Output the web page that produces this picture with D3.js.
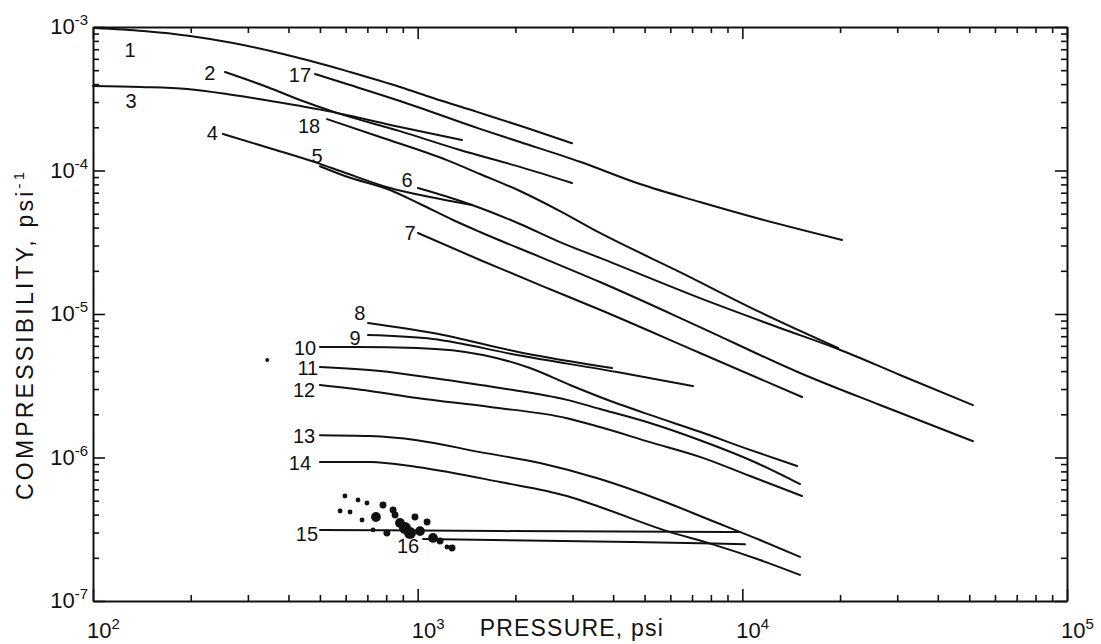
<!DOCTYPE html>
<html>
<head>
<meta charset="utf-8">
<title>Compressibility vs pressure</title>
<script src="https://cdn.jsdelivr.net/npm/d3@7"></script>
<style>
  html, body { margin: 0; padding: 0; background: #fff; }
  svg { display: block; }
  .curve { fill: none; stroke: #111; stroke-width: 2; stroke-linejoin: round; stroke-linecap: round; }
  .axis path { stroke: #111; stroke-width: 2; }
  .axis line { stroke: #111; stroke-width: 1.6; }
  text { font-family: 'Liberation Sans', Arial, sans-serif; fill: #111; }
</style>
</head>
<body>
<svg id="chart"></svg>
<script>
// pressure (psi), compressibility (1/psi)
var curve1 = [[101, 9.84e-4], [143, 9.38e-4], [199, 8.66e-4], [270, 7.73e-4], [385, 6.48e-4], [548, 5.26e-4], [619, 4.86e-4], [882, 3.82e-4], [1115, 3.20e-4], [1523, 2.56e-4], [2171, 1.98e-4], [2988, 1.55e-4]];
var curve2 = [[255, 4.86e-4], [344, 3.82e-4], [434, 3.10e-4], [564, 2.52e-4], [882, 1.88e-4], [1350, 1.39e-4], [2066, 1.06e-4], [2988, 8.18e-5]];
var curve3 = [[100, 3.88e-4], [140, 3.82e-4], [195, 3.70e-4], [270, 3.36e-4], [385, 2.95e-4], [564, 2.52e-4], [882, 2.01e-4], [1369, 1.63e-4]];
var curve4 = [[251, 1.80e-4], [351, 1.43e-4], [490, 1.13e-4], [589, 9.76e-5], [822, 7.55e-5], [1091, 6.53e-5], [1470, 5.75e-5]];
var curve5 = [[500, 1.07e-4], [597, 9.15e-5], [822, 7.31e-5], [1017, 5.84e-5], [1285, 4.52e-5], [1556, 3.73e-5], [2381, 2.50e-5], [3644, 1.67e-5], [7405, 8.11e-6], [15050, 3.88e-6], [26550, 2.32e-6], [51330, 1.30e-6]];
var curve6 = [[1002, 7.55e-5], [1214, 6.64e-5], [1470, 5.75e-5], [2066, 4.24e-5], [2744, 3.17e-5], [3644, 2.46e-5], [7405, 1.29e-5], [13060, 7.99e-6], [19710, 5.70e-6], [30590, 3.76e-6], [51330, 2.32e-6]];
var curve7 = [[1002, 3.67e-5], [1556, 2.38e-5], [2381, 1.59e-5], [3644, 1.07e-5], [7405, 5.35e-6], [15270, 2.64e-6]];
var curve8 = [[703, 8.66e-6], [1115, 7.37e-6], [2110, 5.35e-6], [3967, 4.20e-6]];
var curve9 = [[703, 7.14e-6], [1115, 6.70e-6], [2023, 5.18e-6], [4111, 3.94e-6], [7047, 3.15e-6]];
var curve10 = [[500, 5.89e-6], [650, 5.89e-6], [995, 5.80e-6], [1589, 5.18e-6], [2218, 4.20e-6], [2945, 3.20e-6], [3644, 2.64e-6], [5195, 1.98e-6], [7405, 1.51e-6], [10560, 1.13e-6], [14740, 8.73e-7]];
var curve11 = [[500, 4.27e-6], [766, 4.01e-6], [1115, 3.58e-6], [1793, 3.05e-6], [2884, 2.52e-6], [3644, 2.18e-6], [5195, 1.74e-6], [7405, 1.32e-6], [10560, 9.61e-7], [15050, 6.53e-7]];
var curve12 = [[500, 3.20e-6], [713, 2.91e-6], [995, 2.60e-6], [1670, 2.25e-6], [2884, 1.88e-6], [3644, 1.63e-6], [5195, 1.28e-6], [7405, 1.01e-6], [10560, 7.43e-7], [15270, 5.39e-7]];
var curve13 = [[500, 1.43e-6], [713, 1.41e-6], [995, 1.32e-6], [1556, 1.09e-6], [2381, 9.15e-7], [3644, 7.08e-7], [5578, 5.06e-7], [7951, 3.67e-7], [11340, 2.66e-7], [15050, 2.03e-7]];
var curve14 = [[500, 9.30e-7], [713, 9.30e-7], [995, 8.59e-7], [1793, 6.75e-7], [2884, 5.39e-7], [3644, 4.52e-7], [5861, 3.07e-7], [8066, 2.49e-7], [11340, 1.93e-7], [15050, 1.52e-7]];
var curve15 = [[500, 3.13e-7], [1793, 3.07e-7], [9835, 3.03e-7]];
var curve16 = [[1039, 2.70e-7], [4605, 2.58e-7], [10190, 2.49e-7]];
var curve17 = [[483, 4.70e-4], [619, 3.94e-4], [882, 3.05e-4], [1556, 1.95e-4], [2066, 1.58e-4], [3162, 1.15e-4], [4839, 8.05e-5], [7405, 6.03e-5], [11340, 4.59e-5], [20280, 3.28e-5]];
var curve18 = [[526, 2.28e-4], [766, 1.71e-4], [1231, 1.18e-4], [1556, 9.45e-5], [2066, 7.20e-5], [2744, 5.22e-5], [3644, 3.67e-5], [6427, 1.96e-5], [11340, 1.03e-5], [19710, 5.80e-6]];

// curve numbers: text, pressure, compressibility
var curveLabels = [
  ['1', 130, 6.18e-4], ['2', 229, 4.27e-4], ['3', 131, 2.73e-4], ['4', 233, 1.63e-4],
  ['5', 490, 1.13e-4], ['6', 927, 7.67e-5], ['7', 947, 3.28e-5], ['8', 664, 9.08e-6],
  ['9', 641, 6.08e-6], ['10', 450, 5.18e-6], ['11', 459, 3.76e-6], ['12', 447, 2.64e-6],
  ['13', 447, 1.26e-6], ['14', 434, 8.18e-7], ['15', 456, 2.62e-7], ['16', 934, 2.16e-7],
  ['17', 434, 4.14e-4], ['18', 463, 1.83e-4]
];

// ink spots around curves 15/16: pressure, compressibility, amount
var smudges = [
  [914, 3.23e-7, 3], [947, 2.98e-7, 3], [882, 3.50e-7, 2], [744, 3.85e-7, 2], [852, 3.98e-7, 1],
  [1115, 2.75e-7, 2], [1172, 2.62e-7, 1], [1276, 2.34e-7, 1], [655, 5.06e-7, 0.5], [698, 4.82e-7, 0.5],
  [782, 4.67e-7, 1], [840, 4.31e-7, 1], [619, 4.17e-7, 0.5], [577, 4.24e-7, 0.5], [674, 3.67e-7, 0.5],
  [981, 3.85e-7, 1], [1069, 3.55e-7, 1], [804, 2.98e-7, 1], [729, 3.13e-7, 0.5], [1231, 2.38e-7, 0.5],
  [1017, 3.07e-7, 2], [597, 5.39e-7, 0.5], [344, 4.78e-6, 0.3]
];

var xDecades = [1e2, 1e3, 1e4, 1e5];
var yDecades = [1e-7, 1e-6, 1e-5, 1e-4, 1e-3];
var minorSteps = [2, 3, 4, 5, 6, 7, 8, 9];
var xTickExp = ['2', '3', '4', '5'];
var yTickExp = ['-7', '-6', '-5', '-4', '-3'];

(function () {
  'use strict';

  var width = 1101, height = 644,
  margin = {top: 27, right: 34, bottom: 43, left: 93},
  innerW = width - margin.left - margin.right,
  innerH = height - margin.top - margin.bottom;

  var curves = [curve1, curve2, curve3, curve4, curve5, curve6, curve7, curve8, curve9,
    curve10, curve11, curve12, curve13, curve14, curve15, curve16, curve17, curve18];

  var svg = d3.select('#chart')
  .attr('width', width)
  .attr('height', height);

  var chart = svg.append('g')
  .attr('transform', 'translate(' + [margin.left, margin.top] + ')');

  var x = d3.scaleLog().domain([1e2, 1e5]).range([0, innerW]);
  var y = d3.scaleLog().domain([1e-7, 1e-3]).range([innerH, 0]);

  function allTicks(decades) {
    var out = [];
    decades.forEach(function (d, i) {
      out.push(d);
      if (i < decades.length - 1) {
        minorSteps.forEach(function (m) { out.push(d * m); });
      }
    });
    return out;
  }

  function isMajor(v) {
    var l = Math.log10(v);
    return Math.abs(l - Math.round(l)) < 1e-9;
  }

  // frame + inward ticks on all four sides
  function drawAxis(axisFn, scale, ticks, translate, lineAttr) {
    var g = chart.append('g')
    .attr('class', 'axis')
    .attr('transform', 'translate(' + translate + ')')
    .call(axisFn(scale).tickValues(ticks).tickFormat('').tickSizeOuter(0).tickSizeInner(-6));

    g.selectAll('.tick line').each(function (d) {
      var v = +this.getAttribute(lineAttr);
      if (isMajor(d)) { d3.select(this).attr(lineAttr, v * 2); }
    });
  }

  var xTicks = allTicks(xDecades), yTicks = allTicks(yDecades);
  drawAxis(d3.axisBottom, x, xTicks, [0, innerH], 'y2');
  drawAxis(d3.axisTop, x, xTicks, [0, 0], 'y2');
  drawAxis(d3.axisLeft, y, yTicks, [0, 0], 'x2');
  drawAxis(d3.axisRight, y, yTicks, [innerW, 0], 'x2');

  // tick labels 10^n
  chart.selectAll('.x-tick-label')
  .data(xDecades)
  .enter()
  .append('text')
  .attr('class', 'x-tick-label')
  .attr('x', function (d) { return x(d) - 6; })
  .attr('y', innerH + 37)
  .attr('font-size', 22)
  .each(function (d, i) {
    var t = d3.select(this);
    t.append('tspan').text('10');
    t.append('tspan').attr('dy', -9).attr('font-size', 15).text(xTickExp[i]);
  });

  chart.selectAll('.y-tick-label')
  .data(yDecades)
  .enter()
  .append('text')
  .attr('class', 'y-tick-label')
  .attr('x', -5)
  .attr('y', function (d) { return y(d) + 7; })
  .attr('text-anchor', 'end')
  .attr('font-size', 22)
  .each(function (d, i) {
    var t = d3.select(this);
    t.append('tspan').text('10');
    t.append('tspan').attr('dy', -9).attr('font-size', 15).text(yTickExp[i]);
  });

  // axis titles
  chart.append('text')
  .attr('x', x(1000) + 62)
  .attr('y', innerH + 35)
  .attr('font-size', 23)
  .attr('letter-spacing', 1.2)
  .text('PRESSURE, psi');

  var yTitle = svg.append('text')
  .attr('transform', 'translate(33,500) rotate(-90)')
  .attr('font-size', 23)
  .attr('letter-spacing', 3.2);
  yTitle.append('tspan').text('COMPRESSIBILITY, psi');
  yTitle.append('tspan').attr('dy', -9).attr('font-size', 15).text('-1');

  // curves
  var line = d3.line()
  .x(function (d) { return x(d[0]); })
  .y(function (d) { return y(d[1]); })
  .curve(d3.curveMonotoneX);

  chart.selectAll('.curve')
  .data(curves)
  .enter()
  .append('path')
  .attr('class', 'curve')
  .attr('d', line);

  // ink spots
  var r = d3.scaleSqrt().domain([0, 3]).range([0, 6]);
  chart.selectAll('.smudge')
  .data(smudges)
  .enter()
  .append('circle')
  .attr('class', 'smudge')
  .attr('cx', function (d) { return x(d[0]); })
  .attr('cy', function (d) { return y(d[1]); })
  .attr('r', function (d) { return r(d[2]); })
  .attr('fill', '#111');

  // curve numbers
  chart.selectAll('.curve-label')
  .data(curveLabels)
  .enter()
  .append('text')
  .attr('class', 'curve-label')
  .attr('x', function (d) { return x(d[1]); })
  .attr('y', function (d) { return y(d[2]); })
  .attr('text-anchor', 'middle')
  .attr('font-size', 20)
  .text(function (d) { return d[0]; });
}());
</script>
</body>
</html>
